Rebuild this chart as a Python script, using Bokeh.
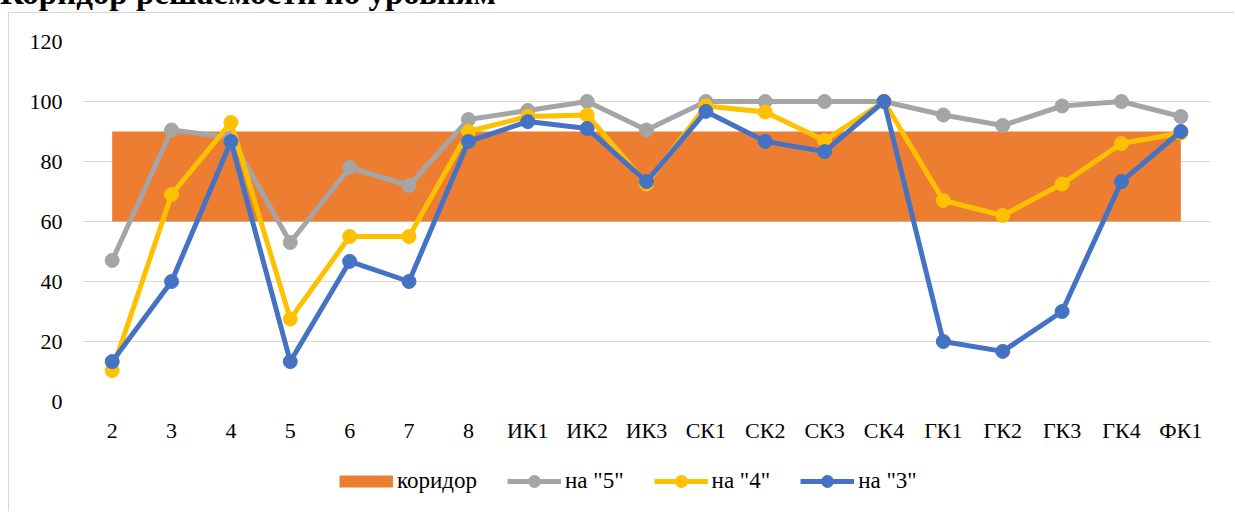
from bokeh.plotting import figure
from bokeh.models import FactorRange, Range1d, FixedTicker, Legend, LegendItem, Div
from bokeh.layouts import column
from bokeh.embed import file_html
from bokeh.resources import INLINE

# ---- data ----
categories = ["2", "3", "4", "5", "6", "7", "8", "ИК1", "ИК2", "ИК3",
              "СК1", "СК2", "СК3", "СК4", "ГК1", "ГК2", "ГК3", "ГК4", "ФК1"]
corridor_low = [60, 60, 60, 60, 60, 60, 60, 60, 60, 60, 60, 60, 60, 60, 60, 60, 60, 60, 60]
corridor_high = [90, 90, 90, 90, 90, 90, 90, 90, 90, 90, 90, 90, 90, 90, 90, 90, 90, 90, 90]
na5 = [47, 90.5, 88, 53, 78, 72, 94, 97, 100, 90.5, 100, 100, 100, 100, 95.5, 92, 98.5, 100, 95]
na4 = [10.3, 69, 93, 27.5, 55, 55, 90, 95, 95.5, 72.5, 98.5, 96.5, 87, 100, 67, 62, 72.5, 86, 89.5]
na3 = [13.3, 40, 86.7, 13.3, 46.7, 40, 86.7, 93.3, 91, 73.3, 96.7, 86.7, 83.3, 100, 20, 16.7, 30, 73.3, 90]
y_ticks = [0, 20, 40, 60, 80, 100, 120]
title_text = "Коридор решаемости по уровням"
legend_labels = ["коридор", 'на "5"', 'на "4"', 'на "3"']

ORANGE = "#ED7D31"
GRAY = "#A5A5A5"
YELLOW = "#FFC000"
BLUE = "#4472C4"
GRID = "#D9D9D9"
FONT = "Liberation Serif"

# ---- title (its upper part lies above the page, as in the reference) ----
title_div = Div(
    text=('<div style="font-family:\'Liberation Serif\';font-weight:bold;'
          'font-size:33px;line-height:20px;white-space:nowrap;color:#000;margin:0;padding:0;">'
          + title_text + '</div>'),
    width=600, height=29, margin=0,
)

# ---- main chart ----
p = figure(
    x_range=FactorRange(factors=categories, range_padding=0),
    y_range=Range1d(0, 120),
    width=1226, height=437,
    output_backend="svg", toolbar_location=None,
    min_border_left=73, min_border_right=25, min_border_top=28, min_border_bottom=49,
    margin=0,
    styles={"border-top": f"1px solid {GRID}", "border-left": f"1px solid {GRID}",
            "margin-left": "8px"},
)
p.outline_line_color = None
p.background_fill_color = "white"
p.border_fill_color = "white"

p.xgrid.grid_line_color = None
p.ygrid.grid_line_color = GRID
p.ygrid.grid_line_width = 1

p.yaxis.ticker = FixedTicker(ticks=y_ticks)
for ax in (p.xaxis[0], p.yaxis[0]):
    ax.axis_line_color = None
    ax.major_tick_line_color = None
    ax.minor_tick_line_color = None
    ax.major_tick_out = 0
    ax.major_tick_in = 0
    ax.major_label_text_font = FONT
    ax.major_label_text_font_size = "22px"
    ax.major_label_text_color = "#000000"
p.yaxis.major_label_standoff = 20
p.xaxis.major_label_standoff = 16

p.varea(x=categories, y1=corridor_low, y2=corridor_high, fill_color=ORANGE, fill_alpha=1)
for vals, col in ((na5, GRAY), (na4, YELLOW), (na3, BLUE)):
    p.line(x=categories, y=vals, line_color=col, line_width=5, line_join="round")
    p.scatter(x=categories, y=vals, marker="circle", size=14, fill_color=col, line_color=col)

# ---- legend strip (swatches use the same styles as the series) ----
lg = figure(
    width=1226, height=62, output_backend="svg", toolbar_location=None,
    x_range=Range1d(0, 1), y_range=Range1d(0, 1),
    x_axis_location=None, y_axis_location=None,
    min_border_left=0, min_border_right=0, min_border_top=0, min_border_bottom=0,
    margin=0,
    styles={"border-left": f"1px solid {GRID}", "margin-left": "8px"},
)
lg.grid.visible = False
lg.outline_line_color = None
# swatch renderers sit outside the visible range; only their legend glyphs show
corr_leg = lg.line(x=[-5, -4], y=[-5, -5], line_color=ORANGE, line_width=12)
items = [LegendItem(label=legend_labels[0], renderers=[corr_leg])]
for col, lab in ((GRAY, legend_labels[1]), (YELLOW, legend_labels[2]), (BLUE, legend_labels[3])):
    lr = lg.line(x=[-5, -4], y=[-5, -5], line_color=col, line_width=5)
    sr = lg.scatter(x=[-5], y=[-5], marker="circle", size=14, fill_color=col, line_color=col)
    items.append(LegendItem(label=lab, renderers=[lr, sr]))

legend = Legend(items=items, orientation="horizontal", location=(257, 15))
legend.label_text_font = FONT
legend.label_text_font_size = "23px"
legend.label_text_color = "#000000"
legend.border_line_color = None
legend.background_fill_alpha = 0
legend.glyph_width = 54
legend.glyph_height = 30
legend.label_standoff = 4
legend.spacing = 30
legend.padding = 0
legend.margin = 0
lg.add_layout(legend, "center")

layout = column(title_div, p, lg, spacing=0, margin=0, styles={"margin-top": "-17px"})

open("out.html", "w").write(file_html(layout, INLINE))
